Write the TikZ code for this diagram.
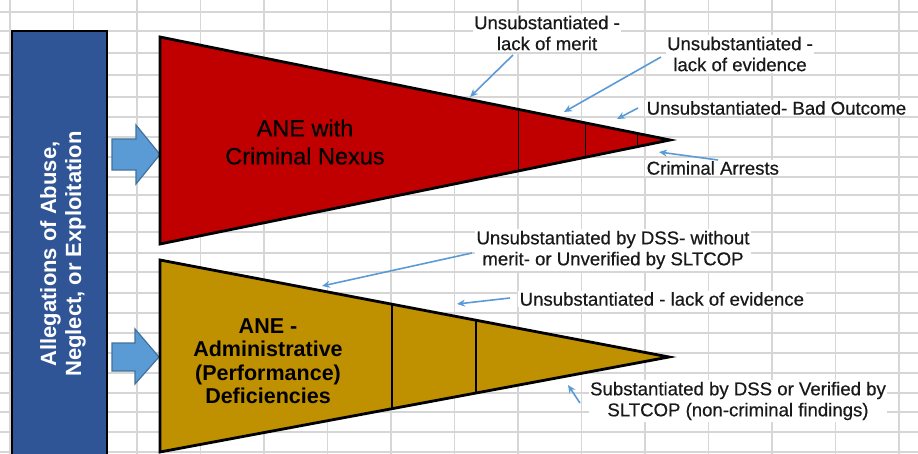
\documentclass[tikz,border=0pt]{standalone}
\usepackage{fontspec}
\setmainfont{Liberation Sans}
\newfontfamily\lblfont[FakeBold=0.5]{Liberation Sans}
\usetikzlibrary{arrows.meta,calc}
\definecolor{gridgray}{RGB}{214,214,214}
\definecolor{boxblue}{RGB}{47,85,151}
\definecolor{arrowblue}{RGB}{91,155,213}
\definecolor{arrowedge}{RGB}{65,113,156}
\definecolor{crimred}{RGB}{192,0,0}
\definecolor{admgold}{RGB}{191,144,0}
\definecolor{inktext}{RGB}{25,25,25}
\begin{document}
\begin{tikzpicture}[x=1pt,y=-1pt,
  gridline/.style={draw=gridgray, line width=1.2pt},
  callout/.style={draw=arrowblue, line width=1.6pt, -{Stealth[length=8pt,width=7pt]}},
  lbl/.style={fill=white, inner sep=1.5pt, text=inktext, font=\lblfont\fontsize{18.6}{21}\selectfont, align=center},
  wedge/.style={draw=black, line width=2.8pt, line join=miter},
  divider/.style={draw=black, line width=1.4pt},
  blockarrow/.style={fill=arrowblue, draw=arrowedge, line width=1.2pt, line join=miter}
]
\useasboundingbox (0,0) rectangle (918,454);
\fill[white] (0,0) rectangle (918,454);

% spreadsheet grid in the background
\foreach \gx in {10,73.5,137,200.5,264,327.5,391,454.5,518,581.5,645,708.5,772,835.5,899}
  \draw[gridline] (\gx,0) -- (\gx,454);
\foreach \gy in {12,31,53,75,97,117,137,157,177,195,213,232,253,272,293,313,333,353,373,393,412,432,452}
  \draw[gridline] (0,\gy) -- (918,\gy);

% source box on the left
\draw[fill=boxblue, line width=2.8pt] (12,31) rectangle (107,470);
\node[rotate=90, text=white, font=\bfseries\fontsize{22}{25}\selectfont, align=center]
  (allegations) at (63,254) {Allegations of Abuse,\\Neglect, or Exploitation};

% block arrows feeding the two wedges
\draw[blockarrow] (112,139) -- (136,139) -- (136,125) -- (160,154.5) -- (136,184) -- (136,170) -- (112,170) -- cycle;
\draw[blockarrow] (112,343) -- (135,343) -- (135,329) -- (159,357) -- (135,384) -- (135,371) -- (112,371) -- cycle;

% criminal nexus wedge
\coordinate (rTL) at (160,37);
\coordinate (rBL) at (160,244);
\coordinate (rTip) at (670,140);
\draw[wedge, fill=crimred] (rTL) -- (rTip) -- (rBL) -- cycle;
\foreach \t in {0.703,0.834,0.936}
  \draw[divider] ($(rTL)!\t!(rTip)$) -- ($(rBL)!\t!(rTip)$);
\node[font=\lblfont\fontsize{23.5}{28}\selectfont, align=center, text=black] (crim) at (305,142) {ANE with\\Criminal Nexus};

% administrative wedge
\coordinate (gTL) at (160,260);
\coordinate (gBL) at (160,452);
\coordinate (gTip) at (669,357);
\draw[wedge, fill=admgold] (gTL) -- (gTip) -- (gBL) -- cycle;
\foreach \t in {0.456,0.621}
  \draw[wedge, line width=2.4pt] ($(gTL)!\t!(gTip)$) -- ($(gBL)!\t!(gTip)$);
\node[font=\bfseries\fontsize{21.5}{23.5}\selectfont, align=center, text=black] (adm) at (268,361)
  {ANE -\\Administrative\\(Performance)\\Deficiencies};

% outcome labels
\node[lbl] (merit) at (547,33) {Unsubstantiated -\\lack of merit};
\node[lbl] (evid) at (740,54) {Unsubstantiated -\\lack of evidence};
\node[lbl, anchor=west] (bad) at (645,108) {Unsubstantiated- Bad Outcome};
\node[lbl, anchor=west] (arrest) at (645,168) {Criminal Arrests};
\node[lbl] (dss) at (613,250) {Unsubstantiated by DSS- without\\merit- or Unverified by SLTCOP};
\node[lbl, anchor=west] (evid2) at (518,299) {Unsubstantiated - lack of evidence};
\node[lbl] (subst) at (738,401) {Substantiated by DSS or Verified by\\SLTCOP (non-criminal findings)};

% callout arrows
\coordinate (m0) at (513,55);  \coordinate (m1) at (470,97);
\coordinate (e0) at (661,57);  \coordinate (e1) at (564,112);
\coordinate (b0) at (638,108); \coordinate (b1) at (617,119);
\coordinate (a0) at (718,160); \coordinate (a1) at (659,152);
\coordinate (d0) at (472,253); \coordinate (d1) at (322,286);
\coordinate (v0) at (510,298); \coordinate (v1) at (457,304);
\coordinate (s0) at (580,403); \coordinate (s1) at (568,385);
\foreach \p in {m,e,b,a,d,v,s}
  \draw[callout] (\p0) -- (\p1);
\end{tikzpicture}
\end{document}
